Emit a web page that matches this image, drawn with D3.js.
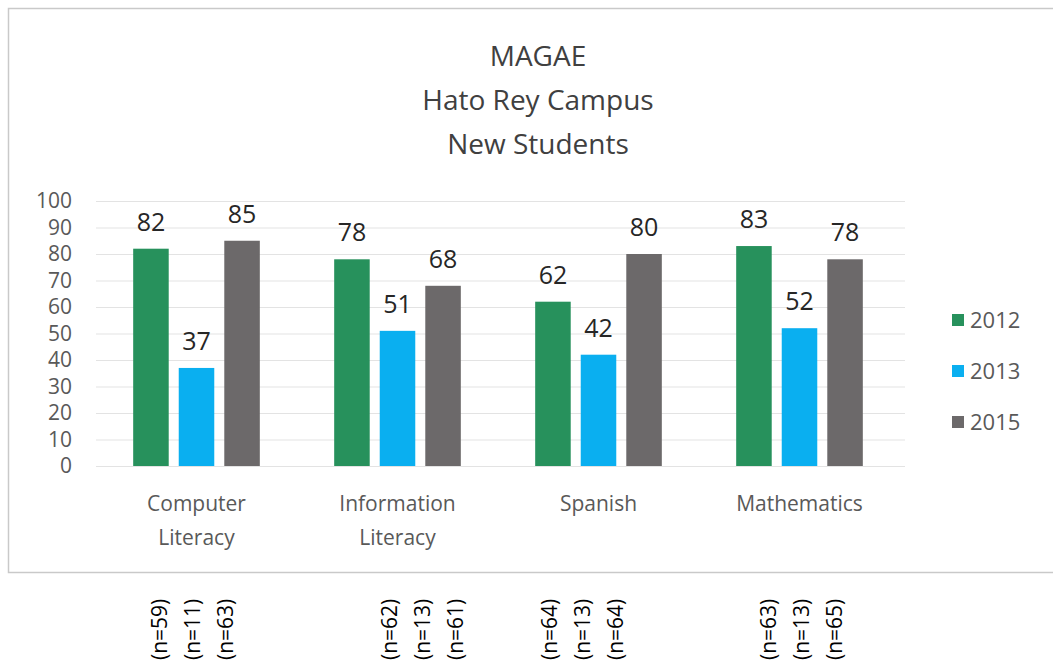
<!DOCTYPE html>
<html>
<head>
<meta charset="utf-8">
<script src="https://cdn.jsdelivr.net/npm/d3@7"></script>
<style>
  body { margin: 0; background: #fff; }
  text { font-family: "Open Sans", sans-serif; }
</style>
</head>
<body>
<div id="chart"></div>
<script>
// data
var subjects = ["Computer Literacy", "Information Literacy", "Spanish", "Mathematics"];
var subjectLines = [["Computer", "Literacy"], ["Information", "Literacy"], ["Spanish"], ["Mathematics"]];
var years = ["2012", "2013", "2015"];
var v2012 = [82, 78, 62, 83];
var v2013 = [37, 51, 42, 52];
var v2015 = [85, 68, 80, 78];
var nCounts = [[59, 11, 63], [62, 13, 61], [64, 13, 64], [63, 13, 65]];
var yTicks = [0, 10, 20, 30, 40, 50, 60, 70, 80, 90, 100];
var titleLines = ["MAGAE", "Hato Rey Campus", "New Students"];

var W = 1053, H = 663;
var colors = {"2012": "#27915c", "2013": "#0aaff0", "2015": "#6c696a"};
// n-label columns sit a bit off the groups in the original
var nShift = [-4, 25, -16, 2];

var data = subjects.map(function(s, i) {
  return {subject: s, vals: [v2012[i], v2013[i], v2015[i]]};
});

var svg = d3.select("#chart").append("svg")
  .attr("width", W)
  .attr("height", H);

// chart frame
svg.append("rect")
  .attr("x", 8.5).attr("y", 8.5)
  .attr("width", 1060).attr("height", 564)
  .attr("fill", "#fff")
  .attr("stroke", "#c9c9c9")
  .attr("stroke-width", 1.5);

var x0 = d3.scaleBand()
  .domain(subjects)
  .range([96, 900])
  .paddingInner(0.37)
  .paddingOuter(0.185);

var x1 = d3.scaleBand()
  .domain(years)
  .range([0, x0.bandwidth()])
  .paddingInner(0.22);

var y = d3.scaleLinear()
  .domain([0, 100])
  .range([466, 201]);

// gridlines
svg.append("g")
  .selectAll("line")
  .data(yTicks)
  .enter().append("line")
  .attr("x1", 96).attr("x2", 905)
  .attr("y1", function(d) { return y(d) + 0.5; })
  .attr("y2", function(d) { return y(d) + 0.5; })
  .attr("stroke", "#e3e3e3")
  .attr("stroke-width", 1);

// y axis labels
var yAxis = svg.append("g")
  .attr("transform", "translate(72,0)")
  .call(d3.axisLeft(y).tickValues(yTicks).tickSize(0).tickPadding(0));
yAxis.select(".domain").remove();
yAxis.selectAll("text")
  .style("font-family", "Open Sans")
  .style("font-size", "21px")
  .attr("fill", "#595959");

// bars
var groups = svg.selectAll(".grp")
  .data(data)
  .enter().append("g")
  .attr("class", "grp")
  .attr("transform", function(d) { return "translate(" + x0(d.subject) + ",0)"; });

groups.selectAll("rect")
  .data(function(d) { return d.vals.map(function(v, j) { return {year: years[j], v: v}; }); })
  .enter().append("rect")
  .attr("x", function(d) { return x1(d.year); })
  .attr("y", function(d) { return y(d.v); })
  .attr("width", x1.bandwidth())
  .attr("height", function(d) { return y(0) - y(d.v); })
  .attr("fill", function(d) { return colors[d.year]; });

groups.selectAll(".lbl")
  .data(function(d) { return d.vals.map(function(v, j) { return {year: years[j], v: v}; }); })
  .enter().append("text")
  .attr("class", "lbl")
  .attr("x", function(d) { return x1(d.year) + x1.bandwidth() / 2; })
  .attr("y", function(d) { return y(d.v) - 18; })
  .attr("text-anchor", "middle")
  .style("font-size", "25px")
  .attr("fill", "#262626")
  .text(function(d) { return d.v; });

// category labels
svg.selectAll(".cat")
  .data(subjects)
  .enter().append("text")
  .attr("class", "cat")
  .attr("x", function(d) { return x0(d) + x0.bandwidth() / 2; })
  .attr("y", 511)
  .attr("text-anchor", "middle")
  .style("font-size", "21px")
  .attr("fill", "#595959")
  .each(function(d, i) {
    var t = d3.select(this);
    subjectLines[i].forEach(function(line, k) {
      t.append("tspan")
        .attr("x", x0(d) + x0.bandwidth() / 2)
        .attr("dy", k === 0 ? 0 : 34)
        .text(line);
    });
  });

// title
svg.selectAll(".title")
  .data(titleLines)
  .enter().append("text")
  .attr("class", "title")
  .attr("x", 538)
  .attr("y", function(d, i) { return 66 + i * 44; })
  .attr("text-anchor", "middle")
  .style("font-size", "28px")
  .attr("fill", "#404040")
  .text(function(d) { return d; });

// legend
var legend = svg.selectAll(".leg")
  .data(years)
  .enter().append("g")
  .attr("class", "leg")
  .attr("transform", function(d, i) { return "translate(952," + (320 + i * 51) + ")"; });
legend.append("rect")
  .attr("x", 0).attr("y", -6)
  .attr("width", 12).attr("height", 12)
  .attr("fill", function(d) { return colors[d]; });
legend.append("text")
  .attr("x", 18)
  .attr("y", 0)
  .attr("dy", "0.35em")
  .style("font-size", "22px")
  .attr("fill", "#595959")
  .text(function(d) { return d; });

// n counts under the chart, rotated
subjects.forEach(function(s, i) {
  var cx = x0(s) + x0.bandwidth() / 2 + nShift[i];
  nCounts[i].forEach(function(n, j) {
    svg.append("text")
      .attr("transform", "translate(" + (cx + (j - 1) * 33) + ",660) rotate(-90)")
      .attr("dy", "0.35em")
      .style("font-size", "21px")
      .attr("fill", "#000")
      .text("(n=" + n + ")");
  });
});
</script>
</body>
</html>
